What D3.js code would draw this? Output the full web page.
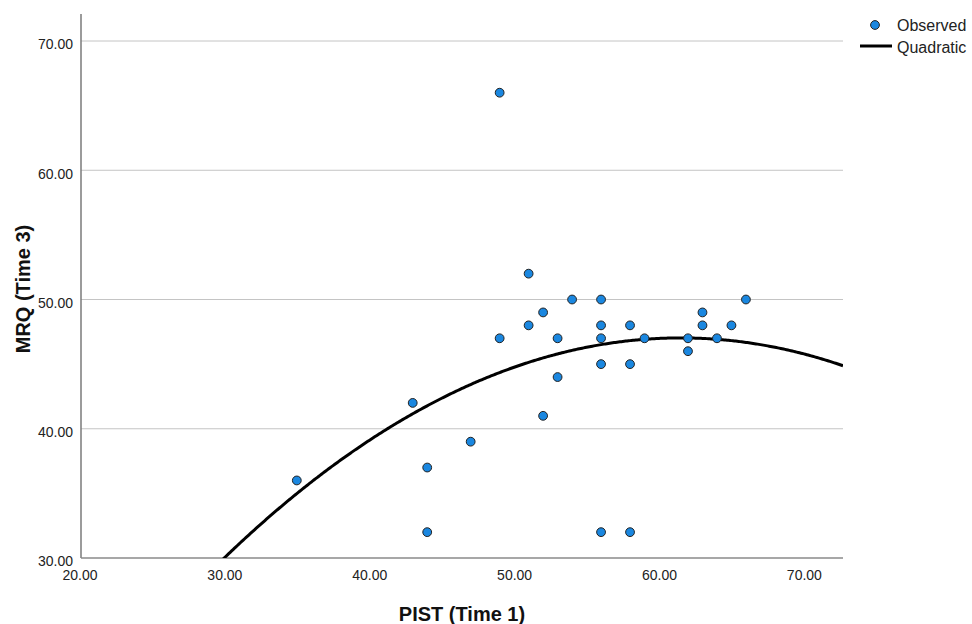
<!DOCTYPE html>
<html>
<head>
<meta charset="utf-8">
<script src="https://cdn.jsdelivr.net/npm/d3@7"></script>
<style>
  body { margin: 0; background: #fff; }
  svg { display: block; font-family: "Liberation Sans", Arial, sans-serif; }
</style>
</head>
<body>
<div id="chart"></div>
<script>
// observed points, PIST (Time 1) vs MRQ (Time 3)
var pist = [35, 43, 44, 44, 47, 49, 49, 51, 51, 52, 52, 53, 53, 54, 56, 56, 56, 56, 56, 58, 58, 58, 59, 62, 62, 63, 63, 64, 65, 66];
var mrq  = [36, 42, 37, 32, 39, 66, 47, 52, 48, 49, 41, 47, 44, 50, 50, 48, 47, 45, 32, 48, 45, 32, 47, 47, 46, 49, 48, 47, 48, 50];

// quadratic fit y = b0 + b1*x + b2*x^2
var quadCoef = [-17.84, 2.1095, -0.01715];

var xTicks = [20, 30, 40, 50, 60, 70];
var yTicks = [30, 40, 50, 60, 70];
var legendLabels = ["Observed", "Quadratic"];

var font = { tick: 14, title: 20, legend: 16 };

var width = 972, height = 624;
var plot = { left: 81, right: 843, top: 14, bottom: 558 };

var svg = d3.select("#chart").append("svg")
    .attr("width", width)
    .attr("height", height);

var x = d3.scaleLinear().domain([20, 72.7]).range([79.5, plot.right]);
var y = d3.scaleLinear().domain([30, 72.09]).range([plot.bottom, plot.top]);

// horizontal grid lines
svg.append("g").selectAll("line")
    .data(yTicks.filter(function(d){ return d > 30; })).enter()
    .append("line")
      .attr("x1", plot.left)
      .attr("x2", plot.right)
      .attr("y1", function(d){ return y(d); })
      .attr("y2", function(d){ return y(d); })
      .attr("stroke", "#c4c4c4")
      .attr("stroke-width", 1);

// axes
var xAxis = svg.append("g").attr("class", "axis axis--x")
    .attr("transform", "translate(0," + plot.bottom + ")")
    .call(d3.axisBottom(x).tickValues(xTicks).tickSize(0).tickPadding(0).tickFormat(d3.format(".2f")));
var yAxis = svg.append("g").attr("class", "axis axis--y")
    .attr("transform", "translate(" + plot.left + ",0)")
    .call(d3.axisLeft(y).tickValues(yTicks).tickSize(0).tickPadding(0).tickFormat(d3.format(".2f")));

svg.selectAll(".axis .domain").remove();
svg.selectAll(".axis text")
    .attr("font-family", "Liberation Sans, Arial, sans-serif")
    .attr("font-size", font.tick)
    .attr("fill", "#222");
xAxis.selectAll(".tick text").attr("y", 22).attr("dy", "0");
yAxis.selectAll(".tick text").attr("x", -8).attr("dy", "0.57em");

svg.append("line")
    .attr("x1", plot.left).attr("x2", plot.left)
    .attr("y1", plot.top).attr("y2", plot.bottom)
    .attr("stroke", "#7a7a7a").attr("stroke-width", 1.5);
svg.append("line")
    .attr("x1", plot.left).attr("x2", plot.right)
    .attr("y1", plot.bottom).attr("y2", plot.bottom)
    .attr("stroke", "#8a8a8a").attr("stroke-width", 1.5);

// quadratic curve, clipped to the plot area
svg.append("clipPath").attr("id", "plotclip")
  .append("rect")
    .attr("x", plot.left).attr("y", plot.top)
    .attr("width", plot.right - plot.left)
    .attr("height", plot.bottom - plot.top);

var curveX = d3.range(x.domain()[0], x.domain()[1] + 0.01, 0.1);
var quad = function(v){ return quadCoef[0] + quadCoef[1]*v + quadCoef[2]*v*v; };
var line = d3.line()
    .x(function(d){ return x(d); })
    .y(function(d){ return y(quad(d)); });

svg.append("path")
    .attr("clip-path", "url(#plotclip)")
    .attr("d", line(curveX))
    .attr("fill", "none")
    .attr("stroke", "#000")
    .attr("stroke-width", 3);

// observed points
svg.append("g").selectAll("circle")
    .data(pist).enter()
    .append("circle")
      .attr("cx", function(d){ return x(d); })
      .attr("cy", function(d, i){ return y(mrq[i]); })
      .attr("r", 4.4)
      .attr("fill", "#1a87e0")
      .attr("stroke", "#222")
      .attr("stroke-width", 1);

// axis titles
svg.append("text")
    .attr("x", (plot.left + plot.right) / 2)
    .attr("y", 621)
    .attr("text-anchor", "middle")
    .attr("font-size", font.title)
    .attr("font-weight", "bold")
    .attr("fill", "#111")
    .text("PIST (Time 1)");

svg.append("text")
    .attr("transform", "translate(30,289) rotate(-90)")
    .attr("text-anchor", "middle")
    .attr("font-size", font.title)
    .attr("font-weight", "bold")
    .attr("fill", "#111")
    .text("MRQ (Time 3)");

// legend
var legend = svg.append("g").attr("class", "legend");
legend.append("circle")
    .attr("cx", 875).attr("cy", 25).attr("r", 4.4)
    .attr("fill", "#1a87e0").attr("stroke", "#222").attr("stroke-width", 1);
legend.append("line")
    .attr("x1", 860).attr("x2", 892)
    .attr("y1", 46).attr("y2", 46)
    .attr("stroke", "#000").attr("stroke-width", 3);
legend.selectAll("text")
    .data(legendLabels).enter()
    .append("text")
      .attr("x", 897)
      .attr("y", function(d, i){ return 31 + i * 22; })
      .attr("font-size", font.legend)
      .attr("fill", "#222")
      .text(function(d){ return d; });
</script>
</body>
</html>
